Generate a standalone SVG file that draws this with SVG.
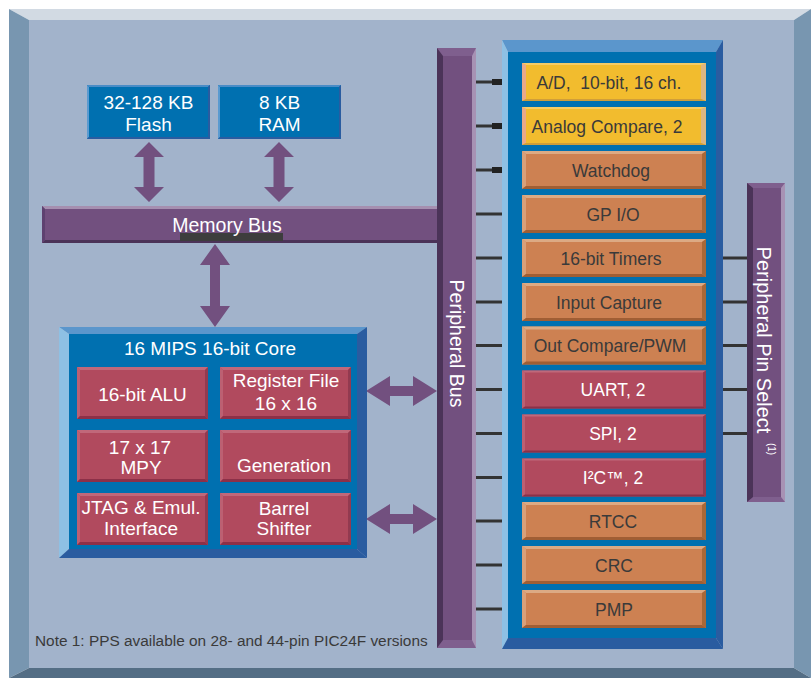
<svg xmlns="http://www.w3.org/2000/svg" width="811" height="678" viewBox="0 0 811 678">
<style>
text{font-family:"Liberation Sans",Arial,sans-serif}
.w{fill:#ffffff}
.d{fill:#3a3a3a}
.t19{font-size:19px}
.t17{font-size:17.5px}
.mid{text-anchor:middle}
.bus{fill:#72507f}
.busd{fill:#4b3358}
.busl{fill:#a792b4}
.busb{fill:#7f5f8e}
.tick{stroke:#333333;stroke-width:3;fill:none}
.arrow{fill:#72507f}
</style>
<defs>
<g id="pb-yellow">
<rect x="0" y="0" width="184" height="38" fill="#f2bc2e"/>
<polygon points="0,0 184,0 180,2 4,2" fill="#f6cc66"/>
<polygon points="0,0 4,2 4,36 0,38" fill="#eaa98a"/>
<polygon points="184,0 184,38 179,36 179,2" fill="#dcb682"/>
<polygon points="0,38 4,36 179,36 184,38" fill="#cf9e3a"/>
</g>
<g id="pb-orange">
<rect x="0" y="0" width="184" height="38" fill="#cd8152"/>
<polygon points="0,0 184,0 180,3 4,3" fill="#dcaa84"/>
<polygon points="0,0 4,3 4,35 0,38" fill="#d8a07a"/>
<polygon points="184,0 184,38 180,35 180,3" fill="#a86838"/>
<polygon points="0,38 4,35 180,35 184,38" fill="#a05e34"/>
</g>
<g id="pb-red">
<rect x="0" y="0" width="184" height="38" fill="#b14a5e"/>
<polygon points="0,0 184,0 181,2 3,2" fill="#c0687a"/>
<polygon points="0,0 3,2 3,36 0,38" fill="#bc6072"/>
<polygon points="184,0 184,38 181,36 181,2" fill="#933a50"/>
<polygon points="0,38 3,36 181,36 184,38" fill="#8c3048"/>
</g>
<g id="cb-red">
<rect x="0" y="0" width="131" height="52" fill="#b14a5e"/>
<polygon points="0,0 131,0 128,3 3,3" fill="#c0687a"/>
<polygon points="0,0 3,3 3,49 0,52" fill="#bc6072"/>
<polygon points="131,0 131,52 128,49 128,3" fill="#933a50"/>
<polygon points="0,52 3,49 128,49 131,52" fill="#8c3048"/>
</g>
<g id="mb-blue">
<rect x="0" y="0" width="123" height="54" fill="#0070b0"/>
<polygon points="0,0 123,0 121,2 2,2" fill="#4a8cc6"/>
<polygon points="0,0 2,2 2,52 0,54" fill="#5a9ad0"/>
<polygon points="123,0 123,54 121,52 121,2" fill="#2a5ca0"/>
<polygon points="0,54 2,52 121,52 123,54" fill="#2a5ca0"/>
</g>
</defs>

<g id="frame">
<rect x="0" y="0" width="811" height="678" fill="#ffffff"/>
<rect x="29" y="20" width="765" height="648" fill="#a2b3cb"/>
<polygon points="9,9 811,9 794,20 29,20" fill="#d2dae3"/>
<polygon points="9,9 29,20 29,668 9,678" fill="#7896b0"/>
<polygon points="811,9 811,678 794,668 794,20" fill="#7896b0"/>
<polygon points="9,678 29,668 794,668 811,678" fill="#546e85"/>
</g>

<g id="connectors">
<polygon class="arrow" points="149,142 164,157 154.5,157 154.5,187 164,187 149,202 134,187 143.5,187 143.5,157 134,157"/>
<polygon class="arrow" points="279,142 294,157 284.5,157 284.5,187 294,187 279,202 264,187 273.5,187 273.5,157 264,157"/>
<polygon class="arrow" points="215,244 230,265 220,265 220,306 230,306 215,327 200,306 210,306 210,265 200,265"/>
<polygon class="arrow" points="366,391 390,376 390,386 413,386 413,376 437,391 413,406 413,396 390,396 390,406"/>
<polygon class="arrow" points="366,519 390,504 390,514 413,514 413,504 437,519 413,534 413,524 390,524 390,534"/>
<g class="tick">
<line x1="476" y1="82" x2="502" y2="82"/>
<line x1="476" y1="126" x2="502" y2="126"/>
<line x1="476" y1="170" x2="502" y2="170"/>
<line x1="476" y1="214" x2="502" y2="214"/>
<line x1="476" y1="258" x2="502" y2="258"/>
<line x1="476" y1="302" x2="502" y2="302"/>
<line x1="476" y1="345.5" x2="502" y2="345.5"/>
<line x1="476" y1="389.5" x2="502" y2="389.5"/>
<line x1="476" y1="433.5" x2="502" y2="433.5"/>
<line x1="476" y1="477.5" x2="502" y2="477.5"/>
<line x1="476" y1="521" x2="502" y2="521"/>
<line x1="476" y1="565" x2="502" y2="565"/>
<line x1="476" y1="609" x2="502" y2="609"/>
<line x1="706" y1="258" x2="748" y2="258"/>
<line x1="706" y1="302" x2="748" y2="302"/>
<line x1="706" y1="345.5" x2="748" y2="345.5"/>
<line x1="706" y1="389.5" x2="748" y2="389.5"/>
<line x1="706" y1="433.5" x2="748" y2="433.5"/>
</g>
<rect x="492" y="79" width="11" height="6" fill="#222222"/>
<rect x="492" y="123" width="11" height="6" fill="#222222"/>
<rect x="492" y="167" width="11" height="6" fill="#222222"/>
</g>

<g id="flash">
<use href="#mb-blue" x="87" y="85"/>
<text class="w t19 mid" x="148.5" y="109">32-128 KB</text>
<text class="w t19 mid" x="148.5" y="131">Flash</text>
</g>
<g id="ram">
<use href="#mb-blue" x="218" y="85"/>
<text class="w t19 mid" x="279.5" y="109">8 KB</text>
<text class="w t19 mid" x="279.5" y="131">RAM</text>
</g>

<g id="memory-bus">
<rect class="bus" x="42" y="206" width="396" height="37"/>
<polygon points="42,206 438,206 438,209 45,209" fill="#a58fb0"/>
<polygon class="busd" points="45,240 438,240 438,243 42,243"/>
<polygon points="42,206 45,209 45,240 42,243" fill="#5e4170"/>
<rect x="180" y="233" width="103" height="8" fill="#3d3d3d"/>
<text class="w mid" style="font-size:19.5px" x="227" y="232">Memory Bus</text>
</g>

<g id="peripheral-bus">
<rect class="bus" x="437" y="48" width="39" height="600"/>
<rect class="busd" x="437" y="48" width="6" height="600"/>
<rect class="busl" x="472" y="48" width="4" height="600"/>
<polygon class="busb" points="437,48 476,48 472,56 443,56"/>
<polygon class="busb" points="443,640 472,640 476,648 437,648"/>
<text class="w mid" style="font-size:19.5px" transform="translate(450,343.5) rotate(90)">Peripheral Bus</text>
</g>

<g id="pps">
<rect class="bus" x="747" y="183" width="38" height="319"/>
<rect class="busd" x="747" y="183" width="6" height="319"/>
<rect class="busl" x="781" y="183" width="4" height="319"/>
<polygon class="busb" points="747,183 785,183 781,188 753,188"/>
<polygon class="busb" points="753,497 781,497 785,502 747,502"/>
<text class="w mid" style="font-size:20px" transform="translate(757,340) rotate(90)">Peripheral Pin Select</text>
<text class="w mid" style="font-size:10px" transform="translate(768,449) rotate(90)">(1)</text>
</g>

<g id="core">
<polygon points="59,327 367,327 357,334 69,334" fill="#5b96cc"/>
<polygon points="59,327 69,334 69,549 59,558" fill="#8ec0e4"/>
<polygon points="367,327 367,558 357,549 357,334" fill="#2a5ca0"/>
<polygon points="59,558 69,549 357,549 367,558" fill="#2a5ca0"/>
<rect x="69" y="334" width="288" height="215" fill="#0070b0"/>
<text class="w t19 mid" x="210" y="355">16 MIPS 16-bit Core</text>
</g>
<g id="alu">
<use href="#cb-red" x="77" y="367"/>
<text class="w t19 mid" x="142.5" y="401">16-bit ALU</text>
</g>
<g id="register-file">
<use href="#cb-red" x="220" y="367"/>
<text class="w t19 mid" x="286" y="387">Register File</text>
<text class="w t19 mid" x="286" y="410">16 x 16</text>
</g>
<g id="mpy">
<use href="#cb-red" x="77" y="430"/>
<text class="w t19 mid" x="140" y="454">17 x 17</text>
<text class="w t19 mid" x="141" y="474">MPY</text>
</g>
<g id="generation">
<use href="#cb-red" x="220" y="430"/>
<text class="w t19 mid" x="284" y="472">Generation</text>
</g>
<g id="jtag">
<use href="#cb-red" x="77" y="493"/>
<text class="w t19 mid" x="141" y="514">JTAG &amp; Emul.</text>
<text class="w t19 mid" x="141" y="535">Interface</text>
</g>
<g id="barrel-shifter">
<use href="#cb-red" x="220" y="493"/>
<text class="w t19 mid" x="284" y="515">Barrel</text>
<text class="w t19 mid" x="284" y="535">Shifter</text>
</g>

<g id="peripherals">
<polygon points="502,40 723,40 716,52 508,52" fill="#5b96cc"/>
<polygon points="502,40 508,52 508,638 502,649" fill="#8ec0e4"/>
<polygon points="723,40 723,649 716,638 716,52" fill="#2a5ca0"/>
<polygon points="502,649 508,638 716,638 723,649" fill="#2a5ca0"/>
<rect x="508" y="52" width="208" height="586" fill="#0070b0"/>
</g>
<g id="ad">
<use href="#pb-yellow" x="522" y="63"/>
<text class="d t17 mid" x="609" y="88.5" style="white-space:pre">A/D,  10-bit, 16 ch.</text>
</g>
<g id="analog-compare">
<use href="#pb-yellow" x="522" y="107"/>
<text class="d t17 mid" x="607" y="132.5">Analog Compare, 2</text>
</g>
<g id="watchdog">
<use href="#pb-orange" x="522" y="151"/>
<text class="d t17 mid" x="611" y="176.5">Watchdog</text>
</g>
<g id="gpio">
<use href="#pb-orange" x="522" y="195"/>
<text class="d t17 mid" x="613" y="220.5">GP I/O</text>
</g>
<g id="timers">
<use href="#pb-orange" x="522" y="239"/>
<text class="d t17 mid" x="611" y="264.5">16-bit Timers</text>
</g>
<g id="input-capture">
<use href="#pb-orange" x="522" y="283"/>
<text class="d t17 mid" x="609" y="308.5">Input Capture</text>
</g>
<g id="out-compare">
<use href="#pb-orange" x="522" y="326.5"/>
<text class="d t17 mid" x="610" y="352">Out Compare/PWM</text>
</g>
<g id="uart">
<use href="#pb-red" x="522" y="370.5"/>
<text class="w t17 mid" x="613" y="396">UART, 2</text>
</g>
<g id="spi">
<use href="#pb-red" x="522" y="414.5"/>
<text class="w t17 mid" x="613" y="440">SPI, 2</text>
</g>
<g id="i2c">
<use href="#pb-red" x="522" y="458.5"/>
<text class="w t17 mid" x="613" y="484">I²C™, 2</text>
</g>
<g id="rtcc">
<use href="#pb-orange" x="522" y="502"/>
<text class="d t17 mid" x="613" y="527.5">RTCC</text>
</g>
<g id="crc">
<use href="#pb-orange" x="522" y="546"/>
<text class="d t17 mid" x="614" y="571.5">CRC</text>
</g>
<g id="pmp">
<use href="#pb-orange" x="522" y="590"/>
<text class="d t17 mid" x="614" y="615.5">PMP</text>
</g>

<g id="note">
<text class="d" x="35" y="646" style="font-size:15.4px">Note 1: PPS available on 28- and 44-pin PIC24F versions</text>
</g>
</svg>
